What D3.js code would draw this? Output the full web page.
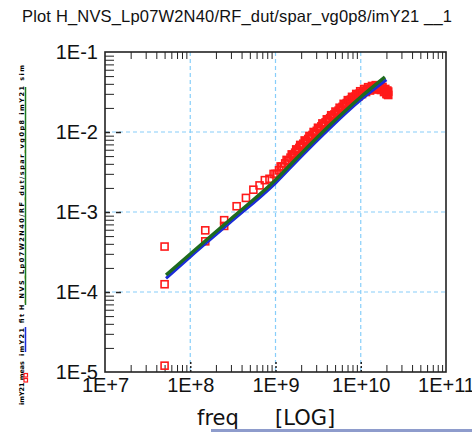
<!DOCTYPE html>
<html>
<head>
<meta charset="utf-8">
<script src="https://cdn.jsdelivr.net/npm/d3@7"></script>
<style>
  body { margin: 0; background: #fff; }
  svg { display: block; }
</style>
</head>
<body>
<div id="chart"></div>
<script>
"use strict";

const titleText = "Plot H_NVS_Lp07W2N40/RF_dut/spar_vg0p8/imY21 __1";
const xMajor = [1e7, 1e8, 1e9, 1e10, 1e11];
const yMajor = [1e-5, 1e-4, 1e-3, 1e-2, 1e-1];

// measured imY21 (red squares), freq in GHz
const redGHz = [0.05, 0.05, 0.05, 0.15, 0.15, 0.25, 0.25, 0.35, 0.45, 0.55, 0.65, 0.75, 0.85,
  0.95, 1.05, 1.15, 1.25, 1.35, 1.45, 1.55, 1.65, 1.75, 1.85,
  1.95, 2.05, 2.2, 2.35, 2.5, 2.65, 2.8, 2.95, 3.15, 3.35,
  3.55, 3.75, 4.0, 4.25, 4.5, 4.75, 5.05, 5.35, 5.65, 5.95,
  6.3, 6.65, 7.05, 7.45, 7.9, 8.35, 8.85, 9.35, 9.85, 10.35,
  10.95, 11.55, 12.2, 12.85, 13.55, 14.25, 15.0, 15.75, 16.5, 17.25,
  18.0, 18.75, 19.4, 20.0, 20.5, 21.0, 21.0];
const redVal = [3.7e-4, 1.25e-4, 1.2e-5, 5.9e-4, 4.3e-4, 7.9e-4, 6.7e-4, 1.18e-3, 1.5e-3, 1.9e-3, 2.15e-3, 2.5e-3, 2.6e-3,
  2.99e-3, 2.98e-3, 3.71e-3, 3.65e-3, 4.48e-3, 4.34e-3, 5.25e-3, 5.01e-3, 6.06e-3, 5.78e-3,
  6.89e-3, 6.49e-3, 7.84e-3, 7.49e-3, 8.93e-3, 8.41e-3, 1.0e-2, 9.43e-3, 1.13e-2, 1.08e-2,
  1.28e-2, 1.21e-2, 1.44e-2, 1.37e-2, 1.62e-2, 1.52e-2, 1.80e-2, 1.70e-2, 2.01e-2, 1.89e-2,
  2.25e-2, 2.11e-2, 2.50e-2, 2.34e-2, 2.75e-2, 2.55e-2, 2.99e-2, 2.77e-2, 3.23e-2, 2.98e-2,
  3.45e-2, 3.16e-2, 3.63e-2, 3.30e-2, 3.76e-2, 3.40e-2, 3.85e-2, 3.44e-2, 3.82e-2, 3.35e-2,
  3.66e-2, 3.16e-2, 3.45e-2, 2.98e-2, 3.3e-2, 2.9e-2, 3.2e-2];
// second sweep of the same measurement, fills the dense band
const red2GHz = [1.0, 1.1, 1.2, 1.3, 1.4, 1.5, 1.6, 1.7, 1.8, 1.9, 2.0,
  2.12, 2.27, 2.42, 2.57, 2.72, 2.87, 3.05, 3.25, 3.45, 3.65, 3.87,
  4.12, 4.37, 4.62, 4.9, 5.2, 5.5, 5.8, 6.12, 6.47, 6.85,
  7.25, 7.67, 8.12, 8.6, 9.1, 9.6, 10.1, 10.65, 11.25, 11.87,
  12.52, 13.2, 13.9, 14.62, 15.37, 16.12, 16.87, 17.62, 18.37, 19.1,
  19.7, 20.25, 20.75];
const red2Val = [2.99e-3, 3.33e-3, 3.69e-3, 4.05e-3, 4.42e-3, 4.78e-3, 5.13e-3, 5.52e-3, 5.93e-3, 6.32e-3, 6.69e-3,
  7.14e-3, 7.67e-3, 8.18e-3, 8.67e-3, 9.18e-3, 9.72e-3, 1.035e-2, 1.105e-2, 1.175e-2, 1.245e-2, 1.32e-2,
  1.405e-2, 1.49e-2, 1.57e-2, 1.655e-2, 1.75e-2, 1.85e-2, 1.95e-2, 2.06e-2, 2.18e-2, 2.30e-2,
  2.42e-2, 2.54e-2, 2.65e-2, 2.76e-2, 2.88e-2, 3.0e-2, 3.1e-2, 3.21e-2, 3.3e-2, 3.39e-2,
  3.47e-2, 3.53e-2, 3.58e-2, 3.62e-2, 3.64e-2, 3.63e-2, 3.58e-2, 3.5e-2, 3.4e-2, 3.3e-2,
  3.2e-2, 3.1e-2, 2.95e-2];

// simulated curves
const blueGHz = [0.052, 0.1, 0.29, 1.0, 1.93, 4.35, 10.0, 20.0];
const blueVal = [1.48e-4, 2.75e-4, 7.3e-4, 2.3e-3, 4.75e-3, 1.12e-2, 2.52e-2, 4.5e-2];
const greenGHz = [0.052, 0.1, 0.29, 1.0, 1.93, 4.35, 10.0, 19.2];
const greenVal = [1.63e-4, 2.99e-4, 7.96e-4, 2.51e-3, 5.16e-3, 1.22e-2, 2.74e-2, 4.87e-2];

const legendRed = "imY21 meas";
const legendBlue = "imY21 fit";
const legendGreen = "H_NVS_Lp07W2N40/RF_dut/spar_vg0p8 imY21 sim";

const width = 472;
const height = 432;
const plot = { left: 105, right: 446, top: 52, bottom: 372 };

const svg = d3.select("#chart").append("svg").attr("width", width).attr("height", height);

const x = d3.scaleLog().domain([1e7, 1e11]).range([plot.left, plot.right]);
const y = d3.scaleLog().domain([1e-5, 1e-1]).range([plot.bottom, plot.top]);

const expFmt = (d) => {
  const e = Math.round(Math.log10(d));
  return `1E${e >= 0 ? "+" : "-"}${Math.abs(e)}`;
};

const xMinor = [];
xMajor.slice(0, -1).forEach((m) => { for (let k = 2; k <= 9; k++) xMinor.push(m * k); });
const yMinor = [];
yMajor.slice(0, -1).forEach((m) => { for (let k = 2; k <= 9; k++) yMinor.push(m * k); });

// title
svg.append("text")
  .attr("x", 22).attr("y", 22)
  .attr("textLength", 430)
  .style("font-family", "'Liberation Sans', Arial, sans-serif")
  .style("font-size", "16.5px")
  .style("fill", "#111")
  .text(titleText);

// grid
const grid = svg.append("g").attr("stroke", "#87cefa").attr("stroke-width", 1.2).attr("stroke-dasharray", "4,3");
grid.selectAll(".gx").data(xMajor.slice(1, -1)).join("line")
  .attr("x1", (d) => x(d)).attr("x2", (d) => x(d))
  .attr("y1", plot.top).attr("y2", plot.bottom);
grid.selectAll(".gy").data(yMajor.slice(1, -1)).join("line")
  .attr("y1", (d) => y(d)).attr("y2", (d) => y(d))
  .attr("x1", plot.left).attr("x2", plot.right);

// minor ticks (inward)
const tickStyle = (g) => {
  g.select(".domain").remove();
  g.selectAll("line").attr("stroke", "#222").attr("stroke-width", 1);
};
svg.append("g").attr("transform", `translate(0,${plot.bottom})`)
  .call(d3.axisBottom(x).tickValues(xMinor).tickSize(-7).tickFormat(""))
  .call(tickStyle);
svg.append("g").attr("transform", `translate(0,${plot.top})`)
  .call(d3.axisTop(x).tickValues(xMinor).tickSize(-7).tickFormat(""))
  .call(tickStyle);
svg.append("g").attr("transform", `translate(${plot.left},0)`)
  .call(d3.axisLeft(y).tickValues(yMinor).tickSize(-9).tickFormat(""))
  .call(tickStyle);

// major ticks (dashed, short)
svg.append("g").attr("transform", `translate(${plot.left},0)`)
  .call(d3.axisLeft(y).tickValues(yMajor.slice(1, -1)).tickSize(-16).tickFormat(""))
  .call(tickStyle)
  .selectAll("line").attr("stroke-dasharray", "5,6").attr("stroke-width", 1.5);
svg.append("g").attr("transform", `translate(0,${plot.bottom})`)
  .call(d3.axisBottom(x).tickValues(xMajor.slice(1, -1)).tickSize(-10).tickFormat(""))
  .call(tickStyle)
  .selectAll("line").attr("stroke-dasharray", "2,2").attr("stroke-width", 1.5);

// frame
svg.append("rect")
  .attr("x", plot.left).attr("y", plot.top)
  .attr("width", plot.right - plot.left).attr("height", plot.bottom - plot.top)
  .attr("fill", "none").attr("stroke", "#222").attr("stroke-width", 1.6);

// tick labels
const labelStyle = (g) => {
  g.select(".domain").remove();
  g.selectAll("text")
    .style("font-family", "'Liberation Sans', Arial, sans-serif")
    .style("font-size", "20px")
    .style("fill", "#111");
};
svg.append("g").attr("transform", `translate(0,${plot.bottom})`)
  .call(d3.axisBottom(x).tickValues(xMajor).tickSize(0).tickPadding(6).tickFormat(expFmt))
  .call(labelStyle);
svg.append("g").attr("transform", `translate(${plot.left},0)`)
  .call(d3.axisLeft(y).tickValues(yMajor).tickSize(0).tickPadding(7).tickFormat(expFmt))
  .call(labelStyle);

// axis title
const axTitle = svg.append("g")
  .style("font-family", "'DejaVu Sans', sans-serif")
  .style("font-size", "21px")
  .style("fill", "#111");
axTitle.append("text").attr("x", 197).attr("y", 425).text("freq");
axTitle.append("text").attr("x", 275).attr("y", 425).text("[LOG]");

// data
const red = redGHz.map((f, i) => ({ f: f * 1e9, v: redVal[i] }))
  .concat(red2GHz.map((f, i) => ({ f: f * 1e9, v: red2Val[i] })));
const blue = blueGHz.map((f, i) => ({ f: f * 1e9, v: blueVal[i] }));
const green = greenGHz.map((f, i) => ({ f: f * 1e9, v: greenVal[i] }));

const sq = 7;
svg.append("g").selectAll("rect").data(red).join("rect")
  .attr("x", (d) => x(d.f) - sq / 2)
  .attr("y", (d) => y(d.v) - sq / 2)
  .attr("width", sq).attr("height", sq)
  .attr("fill", "none").attr("stroke", "#ff1a1a").attr("stroke-width", 1.6);

const line = d3.line().x((d) => x(d.f)).y((d) => y(d.v)).curve(d3.curveMonotoneX);
svg.append("path").datum(blue).attr("d", line)
  .attr("fill", "none").attr("stroke", "#1a2bd9").attr("stroke-width", 3);
svg.append("path").datum(green).attr("d", line)
  .attr("fill", "none").attr("stroke", "#1e6b1e").attr("stroke-width", 3.4);

// rotated legend on the left
const legend = svg.append("g")
  .style("font-family", "'DejaVu Sans', sans-serif")
  .style("font-size", "6.5px")
  .style("font-weight", "bold")
  .style("fill", "#000");
const legendText = (txt, yBottom, len) => legend.append("text")
  .attr("transform", `translate(24,${yBottom}) rotate(-90)`)
  .attr("textLength", len)
  .text(txt);
legendText(legendRed, 405, 44);
legendText(legendBlue, 356, 42);
legendText(legendGreen, 310, 245);

legend.append("line").attr("x1", 25.5).attr("x2", 25.5).attr("y1", 87).attr("y2", 305)
  .attr("stroke", "#1e7b1e").attr("stroke-width", 1.5);
legend.append("line").attr("x1", 25.5).attr("x2", 25.5).attr("y1", 327).attr("y2", 352)
  .attr("stroke", "#1a2bd9").attr("stroke-width", 1.5);
legend.selectAll(".lm").data([375, 380]).join("rect")
  .attr("x", 24).attr("y", (d) => d - 1.5).attr("width", 3.5).attr("height", 3.5)
  .attr("fill", "none").attr("stroke", "#ff1a1a").attr("stroke-width", 1.2);

// bottom strip
svg.append("rect").attr("x", 211).attr("y", 429).attr("width", 261).attr("height", 3).attr("fill", "#8e9ccc");
</script>
</body>
</html>
